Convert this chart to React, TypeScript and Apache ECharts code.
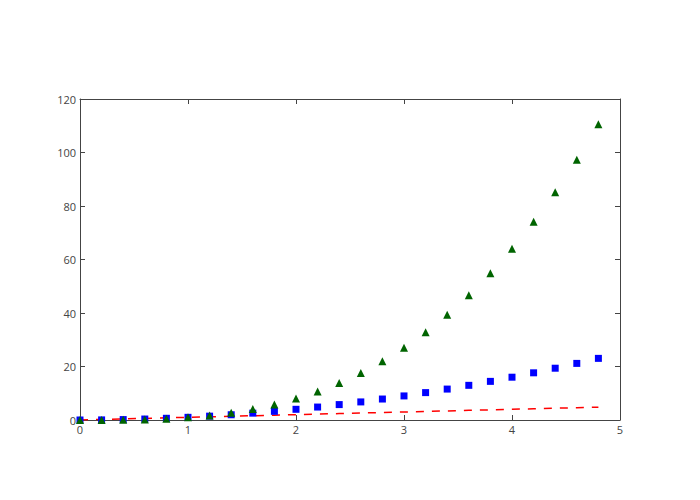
import React, { useEffect, useRef } from "react";
import * as echarts from "echarts";

const tValues = [0, 0.2, 0.4, 0.6, 0.8, 1, 1.2, 1.4, 1.6, 1.8, 2, 2.2, 2.4, 2.6, 2.8, 3, 3.2, 3.4, 3.6, 3.8, 4, 4.2, 4.4, 4.6, 4.8];
const linearValues = [0, 0.2, 0.4, 0.6, 0.8, 1, 1.2, 1.4, 1.6, 1.8, 2, 2.2, 2.4, 2.6, 2.8, 3, 3.2, 3.4, 3.6, 3.8, 4, 4.2, 4.4, 4.6, 4.8];
const squareValues = [0, 0.04, 0.16, 0.36, 0.64, 1, 1.44, 1.96, 2.56, 3.24, 4, 4.84, 5.76, 6.76, 7.84, 9, 10.24, 11.56, 12.96, 14.44, 16, 17.64, 19.36, 21.16, 23.04];
const cubeValues = [0, 0.008, 0.064, 0.216, 0.512, 1, 1.728, 2.744, 4.096, 5.832, 8, 10.648, 13.824, 17.576, 21.952, 27, 32.768, 39.304, 46.656, 54.872, 64, 74.088, 85.184, 97.336, 110.592];

const pair = (ys: number[]) => tValues.map((t, i) => [t, ys[i]]);

export default function App() {
  const ref = useRef<HTMLDivElement>(null);
  useEffect(() => {
    if (!ref.current) return;
    const chart = echarts.init(ref.current, undefined, { renderer: "svg" });
    const axisLine = { show: true, onZero: false, lineStyle: { color: "#444444", width: 1 } };
    const axisTick = { show: true, inside: true, length: 5, lineStyle: { color: "#444444" } };
    const label = { color: "#444444", fontFamily: "Open Sans", fontSize: 11 };
    chart.setOption({
      animation: false,
      backgroundColor: "#fff",
      grid: { left: 80, right: 80, top: 99, bottom: 80 },
      xAxis: [
        {
          type: "value", min: 0, max: 5, interval: 1, position: "bottom",
          axisLine, axisTick, axisLabel: { ...label, margin: 4 }, splitLine: { show: false },
        },
        {
          type: "value", min: 0, max: 5, interval: 1, position: "top",
          axisLine, axisTick, axisLabel: { show: false }, splitLine: { show: false },
        },
      ],
      yAxis: [
        {
          type: "value", min: 0, max: 120, interval: 20, position: "left",
          axisLine, axisTick, axisLabel: { ...label, margin: 4 }, splitLine: { show: false },
        },
        {
          type: "value", min: 0, max: 120, interval: 20, position: "right",
          axisLine, axisTick, axisLabel: { show: false }, splitLine: { show: false },
        },
      ],
      series: [
        {
          type: "line", data: pair(linearValues), showSymbol: false, symbol: "none",
          lineStyle: { color: "#ff0000", width: 1.5, type: [8, 8] }, z: 1,
        },
        {
          type: "scatter", data: pair(squareValues), symbol: "rect", symbolSize: 7,
          itemStyle: { color: "#0000ff", opacity: 1 }, z: 2,
        },
        {
          type: "scatter", data: pair(cubeValues), symbol: "triangle", symbolSize: 8,
          itemStyle: { color: "#006400", opacity: 1 }, z: 3,
        },
      ],
    });
    return () => chart.dispose();
  }, []);
  return <div ref={ref} style={{ width: 700, height: 500, position: "absolute", left: 0, top: 0 }} />;
}
